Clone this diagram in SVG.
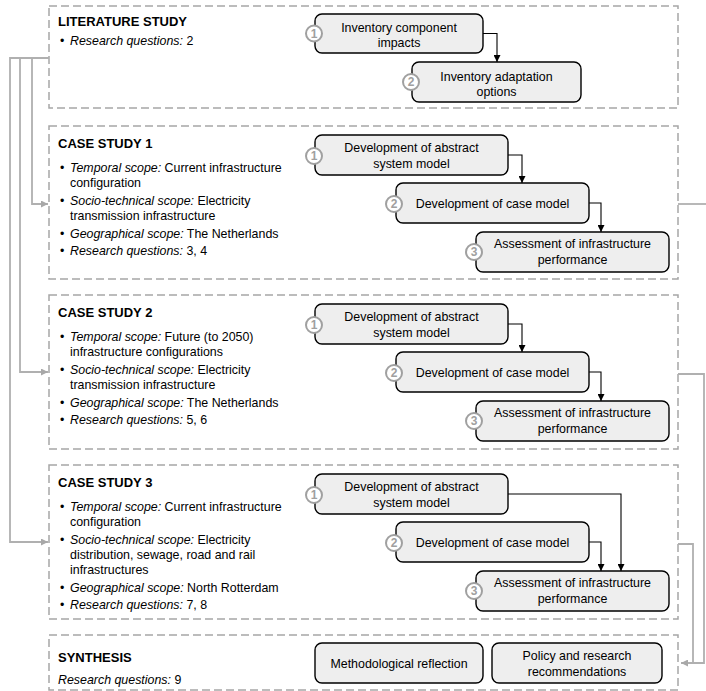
<svg xmlns="http://www.w3.org/2000/svg" width="706" height="691" viewBox="0 0 706 691">
  <style>
    .frame { fill: none; stroke: #a6a6a6; stroke-width: 1.5; stroke-dasharray: 8 4; }
    .node { fill: #eeeeee; stroke: #000; stroke-width: 1.4; }
    .num { fill: #fff; stroke: #a0a0a0; stroke-width: 2; }
    .numt { font-family: "Liberation Sans", Arial, sans-serif; font-size: 12px; font-weight: bold; fill: #a0a0a0; text-anchor: middle; }
    .lbl { font-family: "Liberation Sans", Arial, sans-serif; font-size: 12.4px; fill: #000; text-anchor: middle; }
    .head { font-family: "Liberation Sans", Arial, sans-serif; font-size: 13px; font-weight: bold; fill: #000; }
    .body { font-family: "Liberation Sans", Arial, sans-serif; font-size: 12.4px; fill: #000; }
    .it { font-style: italic; }
    .flow { fill: none; stroke: #000; stroke-width: 1.1; }
    .link { fill: none; stroke: #b0b0b0; stroke-width: 1.8; }
  </style>
  <defs>
    <marker id="ah" viewBox="0 0 10 10" refX="10" refY="5" markerWidth="7" markerHeight="7" markerUnits="userSpaceOnUse" orient="auto">
      <path d="M0,0 L10,5 L0,10 z" fill="#000"/>
    </marker>
    <marker id="ag" viewBox="0 0 10 10" refX="10" refY="5" markerWidth="8" markerHeight="7" markerUnits="userSpaceOnUse" orient="auto">
      <path d="M0,0 L10,5 L0,10 z" fill="#a8a8a8"/>
    </marker>
  </defs>

  <!-- Phase frames -->
  <g id="frames">
    <rect class="frame" x="49" y="6" width="629" height="102"/>
    <rect class="frame" x="49" y="126" width="629" height="153"/>
    <rect class="frame" x="49" y="295" width="629" height="154"/>
    <rect class="frame" x="49" y="465" width="629" height="154"/>
    <rect class="frame" x="49" y="635" width="629" height="55"/>
  </g>

  <!-- Phase descriptions -->
  <g id="literature-study-text">
    <text class="head" x="58" y="26">LITERATURE STUDY</text>
    <text class="body" x="60" y="45">•</text>
    <text class="body" x="70" y="45"><tspan class="it">Research questions:</tspan> 2</text>
  </g>

  <g id="case-study-1-text">
    <text class="head" x="58" y="148">CASE STUDY 1</text>
    <text class="body" x="60" y="172">•</text>
    <text class="body" x="70" y="172"><tspan class="it">Temporal scope:</tspan> Current infrastructure</text>
    <text class="body" x="70" y="187">configuration</text>
    <text class="body" x="60" y="205">•</text>
    <text class="body" x="70" y="205"><tspan class="it">Socio-technical scope:</tspan> Electricity</text>
    <text class="body" x="70" y="220">transmission infrastructure</text>
    <text class="body" x="60" y="238">•</text>
    <text class="body" x="70" y="238"><tspan class="it">Geographical scope:</tspan> The Netherlands</text>
    <text class="body" x="60" y="255">•</text>
    <text class="body" x="70" y="255"><tspan class="it">Research questions:</tspan> 3, 4</text>
  </g>

  <g id="case-study-2-text">
    <text class="head" x="58" y="317">CASE STUDY 2</text>
    <text class="body" x="60" y="341">•</text>
    <text class="body" x="70" y="341"><tspan class="it">Temporal scope:</tspan> Future (to 2050)</text>
    <text class="body" x="70" y="356">infrastructure configurations</text>
    <text class="body" x="60" y="374">•</text>
    <text class="body" x="70" y="374"><tspan class="it">Socio-technical scope:</tspan> Electricity</text>
    <text class="body" x="70" y="389">transmission infrastructure</text>
    <text class="body" x="60" y="407">•</text>
    <text class="body" x="70" y="407"><tspan class="it">Geographical scope:</tspan> The Netherlands</text>
    <text class="body" x="60" y="424">•</text>
    <text class="body" x="70" y="424"><tspan class="it">Research questions:</tspan> 5, 6</text>
  </g>

  <g id="case-study-3-text">
    <text class="head" x="58" y="487">CASE STUDY 3</text>
    <text class="body" x="60" y="511">•</text>
    <text class="body" x="70" y="511"><tspan class="it">Temporal scope:</tspan> Current infrastructure</text>
    <text class="body" x="70" y="526">configuration</text>
    <text class="body" x="60" y="544">•</text>
    <text class="body" x="70" y="544"><tspan class="it">Socio-technical scope:</tspan> Electricity</text>
    <text class="body" x="70" y="559">distribution, sewage, road and rail</text>
    <text class="body" x="70" y="574">infrastructures</text>
    <text class="body" x="60" y="592">•</text>
    <text class="body" x="70" y="592"><tspan class="it">Geographical scope:</tspan> North Rotterdam</text>
    <text class="body" x="60" y="609">•</text>
    <text class="body" x="70" y="609"><tspan class="it">Research questions:</tspan> 7, 8</text>
  </g>

  <g id="synthesis-text">
    <text class="head" x="58" y="662">SYNTHESIS</text>
    <text class="body" x="58" y="684"><tspan class="it">Research questions:</tspan> 9</text>
  </g>

  <!-- Literature study steps -->
  <g id="lit-step-1">
    <rect class="node" x="315" y="14" width="168" height="39" rx="7"/>
    <text class="lbl" x="399" y="31.5">Inventory component</text>
    <text class="lbl" x="399" y="47">impacts</text>
    <circle class="num" cx="314" cy="33.5" r="8"/>
    <text class="numt" x="314" y="37.8">1</text>
  </g>
  <g id="lit-step-2">
    <rect class="node" x="412" y="62" width="169" height="40" rx="7"/>
    <text class="lbl" x="496.5" y="80.5">Inventory adaptation</text>
    <text class="lbl" x="496.5" y="95.5">options</text>
    <circle class="num" cx="411" cy="82" r="8"/>
    <text class="numt" x="411" y="86.3">2</text>
  </g>

  <!-- Case study 1 steps -->
  <g id="cs1-step-1">
    <rect class="node" x="315" y="135" width="193" height="40" rx="7"/>
    <text class="lbl" x="411.5" y="151.5">Development of abstract</text>
    <text class="lbl" x="411.5" y="167.5">system model</text>
    <circle class="num" cx="314" cy="156" r="8"/>
    <text class="numt" x="314" y="160.3">1</text>
  </g>
  <g id="cs1-step-2">
    <rect class="node" x="396" y="183" width="193" height="40" rx="7"/>
    <text class="lbl" x="492.5" y="207.5">Development of case model</text>
    <circle class="num" cx="394" cy="204" r="8"/>
    <text class="numt" x="394" y="208.3">2</text>
  </g>
  <g id="cs1-step-3">
    <rect class="node" x="476" y="232" width="193" height="40" rx="7"/>
    <text class="lbl" x="572.5" y="247.5">Assessment of infrastructure</text>
    <text class="lbl" x="572.5" y="263.5">performance</text>
    <circle class="num" cx="474" cy="252" r="8"/>
    <text class="numt" x="474" y="256.3">3</text>
  </g>

  <!-- Case study 2 steps -->
  <g id="cs2-step-1">
    <rect class="node" x="315" y="304" width="193" height="40" rx="7"/>
    <text class="lbl" x="411.5" y="320.5">Development of abstract</text>
    <text class="lbl" x="411.5" y="336.5">system model</text>
    <circle class="num" cx="314" cy="325" r="8"/>
    <text class="numt" x="314" y="329.3">1</text>
  </g>
  <g id="cs2-step-2">
    <rect class="node" x="396" y="352" width="193" height="40" rx="7"/>
    <text class="lbl" x="492.5" y="376.5">Development of case model</text>
    <circle class="num" cx="394" cy="373" r="8"/>
    <text class="numt" x="394" y="377.3">2</text>
  </g>
  <g id="cs2-step-3">
    <rect class="node" x="476" y="401" width="193" height="40" rx="7"/>
    <text class="lbl" x="572.5" y="416.5">Assessment of infrastructure</text>
    <text class="lbl" x="572.5" y="432.5">performance</text>
    <circle class="num" cx="474" cy="421" r="8"/>
    <text class="numt" x="474" y="425.3">3</text>
  </g>

  <!-- Case study 3 steps -->
  <g id="cs3-step-1">
    <rect class="node" x="315" y="474" width="193" height="40" rx="7"/>
    <text class="lbl" x="411.5" y="490.5">Development of abstract</text>
    <text class="lbl" x="411.5" y="506.5">system model</text>
    <circle class="num" cx="314" cy="495" r="8"/>
    <text class="numt" x="314" y="499.3">1</text>
  </g>
  <g id="cs3-step-2">
    <rect class="node" x="396" y="522" width="193" height="40" rx="7"/>
    <text class="lbl" x="492.5" y="546.5">Development of case model</text>
    <circle class="num" cx="394" cy="543" r="8"/>
    <text class="numt" x="394" y="547.3">2</text>
  </g>
  <g id="cs3-step-3">
    <rect class="node" x="476" y="571" width="193" height="40" rx="7"/>
    <text class="lbl" x="572.5" y="586.5">Assessment of infrastructure</text>
    <text class="lbl" x="572.5" y="602.5">performance</text>
    <circle class="num" cx="474" cy="591" r="8"/>
    <text class="numt" x="474" y="595.3">3</text>
  </g>

  <!-- Synthesis steps -->
  <g id="syn-reflection">
    <rect class="node" x="315" y="643" width="168" height="40" rx="7"/>
    <text class="lbl" x="399" y="667.5">Methodological reflection</text>
  </g>
  <g id="syn-recommendations">
    <rect class="node" x="492" y="643" width="170" height="40" rx="7"/>
    <text class="lbl" x="577" y="659.5">Policy and research</text>
    <text class="lbl" x="577" y="675.5">recommendations</text>
  </g>

  <!-- Connectors -->
  <g id="connectors">
    <!-- step sequences -->
    <path class="flow" d="M483,33.5 H497 V62" marker-end="url(#ah)"/>
    <path class="flow" d="M508,155 H522 V183" marker-end="url(#ah)"/>
    <path class="flow" d="M589,203 H601 V232" marker-end="url(#ah)"/>
    <path class="flow" d="M508,324 H522 V352" marker-end="url(#ah)"/>
    <path class="flow" d="M589,372 H601 V401" marker-end="url(#ah)"/>
    <path class="flow" d="M508,494 H621 V571" marker-end="url(#ah)"/>
    <path class="flow" d="M589,542 H601 V571" marker-end="url(#ah)"/>

    <!-- literature study feeding the case studies -->
    <path class="link" d="M49,58 H10 V542 H48" marker-end="url(#ag)"/>
    <path class="link" d="M20,58 V372 H48" marker-end="url(#ag)"/>
    <path class="link" d="M32,58 V204 H48" marker-end="url(#ag)"/>

    <!-- case studies feeding the synthesis -->
    <path class="link" d="M678,204 H706"/>
    <path class="link" d="M678,374 H704 V663 H681" marker-end="url(#ag)"/>
    <path class="link" d="M678,544 H693 V663"/>
  </g>
</svg>
